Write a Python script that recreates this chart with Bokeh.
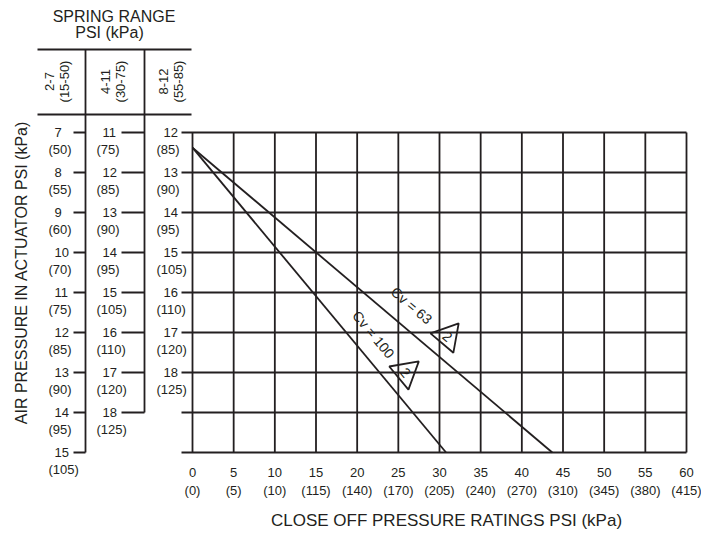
import math
from bokeh.plotting import figure
from bokeh.models import Range1d
from bokeh.core.properties import value
from bokeh.embed import file_html
from bokeh.resources import INLINE

# ---------------- data ----------------
close_off_psi = [0, 5, 10, 15, 20, 25, 30, 35, 40, 45, 50, 55, 60]
close_off_kpa = ["(0)", "(5)", "(10)", "(115)", "(140)", "(170)", "(205)",
                 "(240)", "(270)", "(310)", "(345)", "(380)", "(415)"]

spring_range_psi = ["2-7", "4-11", "8-12"]
spring_range_kpa = ["(15-50)", "(30-75)", "(55-85)"]

range1_psi = [7, 8, 9, 10, 11, 12, 13, 14, 15]
range1_kpa = ["(50)", "(55)", "(60)", "(70)", "(75)", "(85)", "(90)", "(95)", "(105)"]
range2_psi = [11, 12, 13, 14, 15, 16, 17, 18]
range2_kpa = ["(75)", "(85)", "(90)", "(95)", "(105)", "(110)", "(120)", "(125)"]
range3_psi = [12, 13, 14, 15, 16, 17, 18]
range3_kpa = ["(85)", "(90)", "(95)", "(105)", "(110)", "(120)", "(125)"]

# actuator pressure (8-12 range scale) from 12 to 20
actuator_rows = [12, 13, 14, 15, 16, 17, 18, 19, 20]

cv_labels = ["Cv = 63", "Cv = 100"]
cv_x = [[0, 43.7], [0, 30.8]]
cv_y = [[12.38, 20], [12.38, 20]]
note_number = "2"

# ---------------- layout helpers ----------------
W, H = 701, 533
FONT = "Liberation Sans"
INK = "#231f20"
X0, PXU = 192.0, 494.0 / 60.0   # screen px of close-off 0, px per psi
Y0, PYU = 132.0, 40.0           # screen px of row 12, px per row


def sx(X):
    return (X - X0) / PXU


def sy(Y):
    return 12 + (Y - Y0) / PYU


p = figure(width=W, height=H,
           x_range=Range1d(sx(0), sx(W)),
           y_range=Range1d(sy(H), sy(0)),
           x_axis_type=None, y_axis_type=None,
           output_backend="svg", toolbar_location=None,
           min_border=0, outline_line_color=None,
           background_fill_color="white", border_fill_color="white")
p.grid.visible = False

LW = 1.8


def txt(xs, ys, t, size="13px", align="center", baseline="middle", angle=0.0):
    p.text(x=xs, y=ys, text=t, text_font=value(FONT), text_font_size=size,
           text_align=align, text_baseline=baseline, angle=angle,
           text_color=INK)


# ---------------- main grid ----------------
ytop, ybot = actuator_rows[0], actuator_rows[-1]
p.segment(x0=close_off_psi, x1=close_off_psi,
          y0=[ytop] * len(close_off_psi), y1=[ybot] * len(close_off_psi),
          line_color=INK, line_width=LW)
p.segment(x0=[sx(181)] * len(actuator_rows), x1=[close_off_psi[-1]] * len(actuator_rows),
          y0=actuator_rows, y1=actuator_rows, line_color=INK, line_width=LW)

# x tick labels
txt(close_off_psi, [sy(472)] * len(close_off_psi), [str(v) for v in close_off_psi])
txt(close_off_psi, [sy(490)] * len(close_off_psi), close_off_kpa)

# ---------------- spring range columns ----------------
# header box
p.segment(x0=[sx(37), sx(37)], x1=[sx(191), sx(191)],
          y0=[sy(49), sy(114)], y1=[sy(49), sy(114)], line_color=INK, line_width=LW)

cols = [
    dict(psi=range1_psi, kpa=range1_kpa, line_x=85, tick_x0=73, num_x=54, kpa_x=48),
    dict(psi=range2_psi, kpa=range2_kpa, line_x=144, tick_x0=121, num_x=102, kpa_x=96),
    dict(psi=range3_psi, kpa=range3_kpa, line_x=None, tick_x0=None, num_x=163, kpa_x=156),
]
for c in cols:
    rows = [12 + (v - c["psi"][0]) for v in c["psi"]]
    if c["line_x"] is not None:
        p.segment(x0=[sx(c["line_x"])], x1=[sx(c["line_x"])],
                  y0=[sy(49)], y1=[rows[-1]], line_color=INK, line_width=LW)
        p.segment(x0=[sx(c["tick_x0"])] * len(rows), x1=[sx(c["line_x"])] * len(rows),
                  y0=rows, y1=rows, line_color=INK, line_width=LW)
    txt([sx(c["num_x"])] * len(rows), rows, [str(v) for v in c["psi"]], align="left")
    txt([sx(c["kpa_x"])] * len(rows), [r + 17 / PYU for r in rows], c["kpa"], align="left")

# rotated header labels
hdr_x1 = [49, 105, 163]
hdr_x2 = [64, 120, 178]
txt([sx(v) for v in hdr_x1], [sy(81)] * 3, spring_range_psi, angle=math.pi / 2)
txt([sx(v) for v in hdr_x2], [sy(81)] * 3, spring_range_kpa, angle=math.pi / 2)

txt([sx(113.5)], [sy(15.5)], ["SPRING RANGE"], size="16px")
txt([sx(109)], [sy(31.5)], ["PSI (kPa)"], size="16px")

# axis titles
txt([sx(21)], [sy(272)], ["AIR PRESSURE IN ACTUATOR PSI (kPa)"], size="16px", angle=math.pi / 2)
txt([sx(446)], [sy(520)], ["CLOSE OFF PRESSURE RATINGS PSI (kPa)"], size="17px")

# ---------------- Cv lines ----------------
label_pos = [(411, 305), (373, 334)]
note_pos = [(447, 336), (405, 372)]
for xs, ys, lab, lp, npos in zip(cv_x, cv_y, cv_labels, label_pos, note_pos):
    p.line(xs, ys, line_color=INK, line_width=LW)
    ang = -math.atan2((ys[1] - ys[0]) * PYU, (xs[1] - xs[0]) * PXU)
    txt([sx(lp[0])], [sy(lp[1])], [lab], size="14px", angle=ang)
    p.scatter(x=[sx(npos[0])], y=[sy(npos[1])], marker="triangle", size=30,
              angle=ang, fill_color=None, line_color=INK, line_width=LW)
    txt([sx(npos[0])], [sy(npos[1])], [note_number], size="14px", angle=ang)

open("out.html", "w").write(file_html(p, INLINE))
